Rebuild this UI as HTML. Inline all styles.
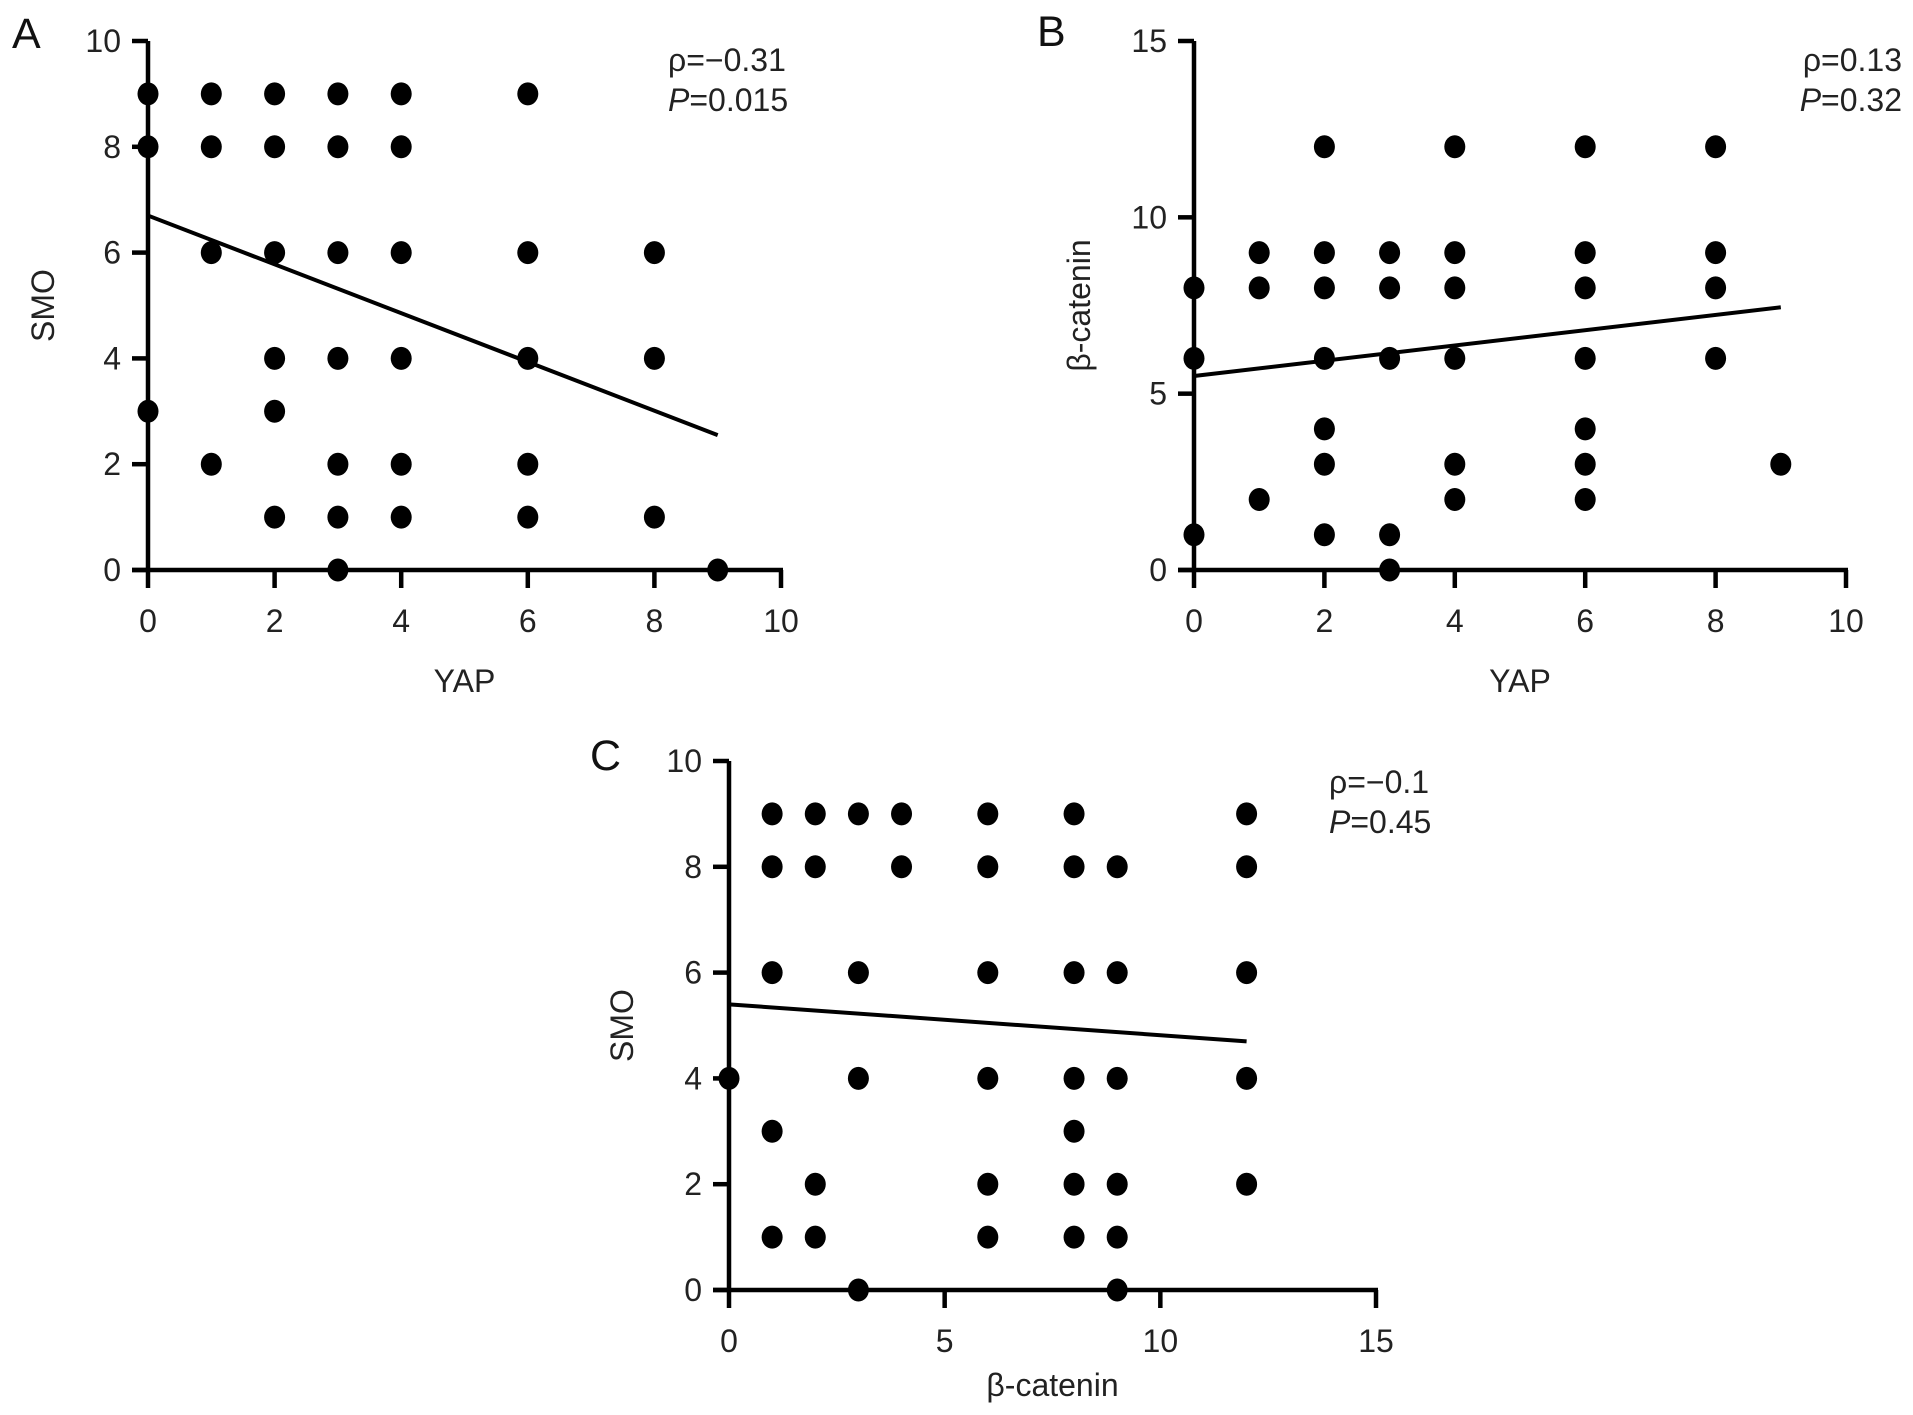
<!DOCTYPE html>
<html><head><meta charset="utf-8"><style>
html,body{margin:0;padding:0;background:#fff;}
svg{display:block;font-family:"Liberation Sans",sans-serif;}
</style></head><body>
<svg id="fig" width="1913" height="1415" viewBox="0 0 1913 1415"></svg>
<script>
// Panel A data: YAP vs SMO
const aX = [0,0,0,1,1,1,1,2,2,2,2,2,2,3,3,3,3,3,3,3,4,4,4,4,4,4,6,6,6,6,6,8,8,8,9];
const aY = [9,8,3,9,8,6,2,9,8,6,4,3,1,9,8,6,4,2,1,0,9,8,6,4,2,1,9,6,4,2,1,6,4,1,0];
const aFit = [6.7, 2.55];
// Panel B data: YAP vs beta-catenin
const bX = [0,0,0,1,1,1,2,2,2,2,2,2,2,3,3,3,3,3,4,4,4,4,4,4,6,6,6,6,6,6,6,8,8,8,8,9];
const bY = [8,6,1,9,8,2,12,9,8,6,4,3,1,9,8,6,1,0,12,9,8,6,3,2,12,9,8,6,4,3,2,12,9,8,6,3];
const bFit = [5.5, 7.45];
// Panel C data: beta-catenin vs SMO
const cX = [0,1,1,1,1,1,2,2,2,2,3,3,3,3,4,4,6,6,6,6,6,6,8,8,8,8,8,8,8,9,9,9,9,9,9,12,12,12,12,12];
const cY = [4,9,8,6,3,1,9,8,2,1,9,6,4,0,9,8,9,8,6,4,2,1,9,8,6,4,3,2,1,8,6,4,2,1,0,9,8,6,4,2];
const cFit = [5.4, 4.7];
const aXTicks = [0,2,4,6,8,10], aYTicks = [0,2,4,6,8,10];
const bXTicks = [0,2,4,6,8,10], bYTicks = [0,5,10,15];
const cXTicks = [0,5,10,15], cYTicks = [0,2,4,6,8,10];

const NS = "http://www.w3.org/2000/svg";
const svg = document.getElementById('fig');
function mk(tag, attrs, parent){const e=document.createElementNS(NS,tag);for(const k in attrs)e.setAttribute(k,attrs[k]);(parent||svg).appendChild(e);return e;}

function panel(cfg){
  const g = mk('g',{});
  
  
  const sx = v => cfg.x0 + (v - cfg.xmin)/(cfg.xmax-cfg.xmin)*(cfg.x1-cfg.x0);
  const sy = v => cfg.y0 - (v - cfg.ymin)/(cfg.ymax-cfg.ymin)*(cfg.y0-cfg.y1);
  const ya = mk('line',{x1:sx(cfg.xmin),y1:sy(cfg.ymin)+2,x2:sx(cfg.xmin),y2:sy(cfg.ymax),stroke:'#000','stroke-width':4.5},g);
  
  
  const xa = mk('line',{x1:sx(cfg.xmin)-16,y1:sy(cfg.ymin),x2:sx(cfg.xmax)+2,y2:sy(cfg.ymin),stroke:'#000','stroke-width':4.5},g);
  
  
  cfg.xt.forEach(t=>{
    mk('line',{x1:sx(t),y1:sy(cfg.ymin),x2:sx(t),y2:sy(cfg.ymin)+18,stroke:'#000','stroke-width':4.5},g);
    const tx = mk('text',{x:sx(t),y:sy(cfg.ymin)+62,'text-anchor':'middle','font-size':32,fill:'#222'},g);
    tx.textContent = t;
    
    
  });
  cfg.yt.forEach(t=>{
    mk('line',{x1:sx(cfg.xmin)-16,y1:sy(t),x2:sx(cfg.xmin),y2:sy(t),stroke:'#000','stroke-width':4.5},g);
    const tx = mk('text',{x:sx(cfg.xmin)-27,y:sy(t)+11,'text-anchor':'end','font-size':32,fill:'#222'},g);
    tx.textContent = t;
    
    
  });
  const fl = mk('line',{x1:sx(cfg.xmin),y1:sy(cfg.fit[0]),x2:sx(cfg.fitEnd),y2:sy(cfg.fit[1]),stroke:'#000','stroke-width':4},g);
  
  
  cfg.xs.forEach((v,i)=>{
    const c = mk('ellipse',{cx:sx(v),cy:sy(cfg.ys[i]),rx:10.5,ry:11.5,fill:'#000'},g);
    
    
  });
  const L = mk('text',{x:cfg.lx,y:cfg.ly,'font-size':43,fill:'#111'},g); L.textContent = cfg.id;
  
  
  const xt = mk('text',{x:(sx(cfg.xmin)+sx(cfg.xmax))/2,y:cfg.xtitleY,'text-anchor':'middle','font-size':32,fill:'#222'},g); xt.textContent = cfg.xtitle;
  
  
  const ytx = cfg.ytitleX, yty = (sy(cfg.ymin)+sy(cfg.ymax))/2;
  const yt = mk('text',{x:ytx,y:yty,'text-anchor':'middle','font-size':32,fill:'#222',transform:`rotate(-90 ${ytx} ${yty})`},g); yt.textContent = cfg.ytitle;
  
  
  const r1 = mk('text',{x:cfg.ax,y:cfg.ay,'text-anchor':cfg.anchor,'font-size':32,fill:'#222'},g); r1.textContent = cfg.rho;
  
  
  const r2 = mk('text',{x:cfg.ax,y:cfg.ay+40,'text-anchor':cfg.anchor,'font-size':32,fill:'#222'},g);
  r2.innerHTML = '<tspan font-style="italic">P</tspan>' + cfg.p;
  
  
}

panel({id:'A',x0:148,x1:781,y0:570,y1:41,xmin:0,xmax:10,ymin:0,ymax:10,xt:aXTicks,yt:aYTicks,xs:aX,ys:aY,fit:aFit,fitEnd:9,
  lx:12,ly:48,xtitle:'YAP',xtitleY:692,ytitle:'SMO',ytitleX:54,ax:668,ay:71,anchor:'start',rho:'ρ=−0.31',p:'=0.015'});
panel({id:'B',x0:1194,x1:1846,y0:570,y1:41,xmin:0,xmax:10,ymin:0,ymax:15,xt:bXTicks,yt:bYTicks,xs:bX,ys:bY,fit:bFit,fitEnd:9,
  lx:1037,ly:46,xtitle:'YAP',xtitleY:692,ytitle:'β-catenin',ytitleX:1090,ax:1902,ay:71,anchor:'end',rho:'ρ=0.13',p:'=0.32'});
panel({id:'C',x0:729,x1:1376,y0:1290,y1:761,xmin:0,xmax:15,ymin:0,ymax:10,xt:cXTicks,yt:cYTicks,xs:cX,ys:cY,fit:cFit,fitEnd:12,
  lx:590,ly:770,xtitle:'β-catenin',xtitleY:1396,ytitle:'SMO',ytitleX:633,ax:1329,ay:793,anchor:'start',rho:'ρ=−0.1',p:'=0.45'});
</script>
</body></html>
